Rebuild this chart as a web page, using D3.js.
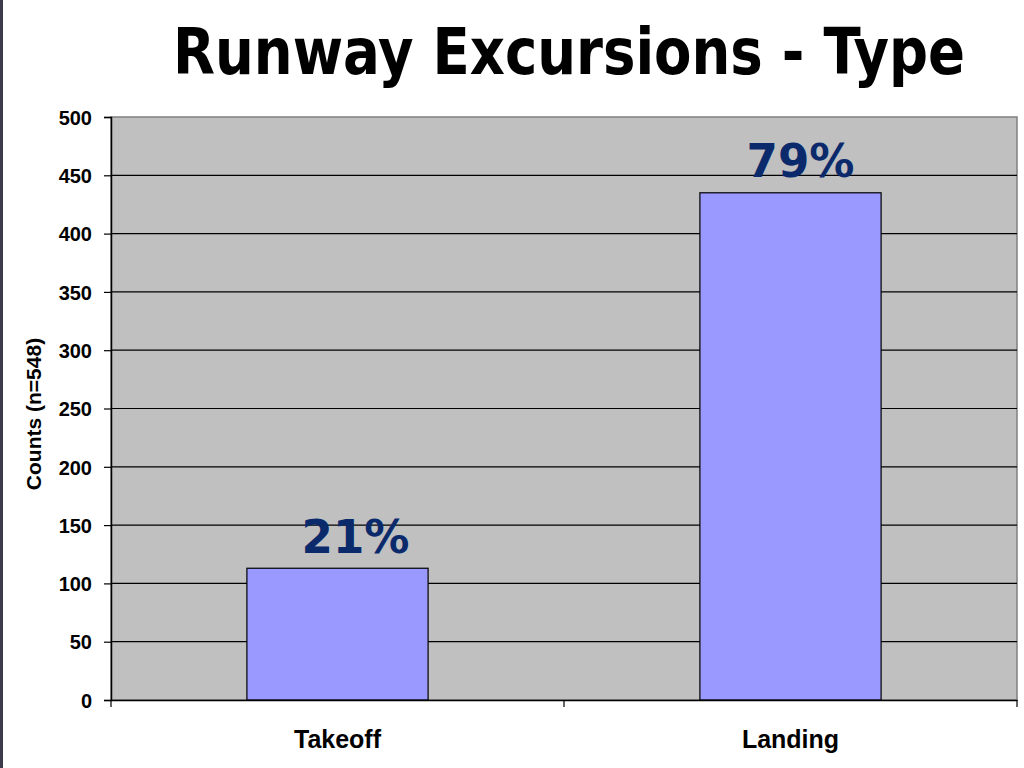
<!DOCTYPE html>
<html><head><meta charset="utf-8">
<script src="https://cdn.jsdelivr.net/npm/d3@7"></script>
<style>html,body{margin:0;padding:0;background:#fff;}svg{display:block;}</style>
</head><body>
<script>
const categories = ["Takeoff", "Landing"];
const counts = [113, 435];
const pctLabels = ["21%", "79%"];
const yTicks = [0, 50, 100, 150, 200, 250, 300, 350, 400, 450, 500];
const titleText = "Runway Excursions - Type";
const yAxisLabel = "Counts (n=548)";

const W = 1024, H = 768;
const m = {left: 111, right: 7, top: 117, bottom: 68};
const svg = d3.select("body").append("svg").attr("width", W).attr("height", H);

svg.append("rect").attr("x", 0).attr("y", 0).attr("width", 3).attr("height", H).attr("fill", "#3b3b4b");

const x = d3.scaleBand().domain(categories).range([m.left, W - m.right]).paddingInner(0.6).paddingOuter(0.3);
const xOuter = d3.scaleBand().domain(categories).range([m.left, W - m.right]);
const y = d3.scaleLinear().domain([0, 500]).range([H - m.bottom, m.top]);

svg.append("rect").attr("x", m.left).attr("y", m.top)
  .attr("width", W - m.right - m.left).attr("height", H - m.bottom - m.top)
  .attr("fill", "#c0c0c0").attr("stroke", "#808080").attr("stroke-width", 1.5);

svg.append("g").selectAll("line").data(yTicks.filter(d => d > 0 && d < 500)).join("line")
  .attr("x1", m.left).attr("x2", W - m.right)
  .attr("y1", d => y(d)).attr("y2", d => y(d))
  .attr("stroke", "#000").attr("stroke-width", 1.2);

svg.append("text").attr("x", 173).attr("y", 74)
  .attr("font-family", "DejaVu Sans Condensed, DejaVu Sans").attr("font-weight", "bold").attr("font-size", 64)
  .attr("textLength", 792).attr("lengthAdjust", "spacingAndGlyphs")
  .attr("fill", "#000").text(titleText);

svg.append("g").selectAll("rect").data(categories).join("rect")
  .attr("x", d => x(d)).attr("width", x.bandwidth())
  .attr("y", (d, i) => y(counts[i])).attr("height", (d, i) => y(0) - y(counts[i]))
  .attr("fill", "#9999ff").attr("stroke", "#000").attr("stroke-width", 1.2);

const labelOffsets = [18, 10];
svg.append("g").selectAll("text").data(categories).join("text")
  .attr("x", (d, i) => x(d) + x.bandwidth() / 2 + labelOffsets[i] - 54)
  .attr("y", (d, i) => y(counts[i]) - 15.5)
  .attr("font-family", "DejaVu Sans").attr("font-weight", "bold").attr("font-size", 46)
  .attr("textLength", 108).attr("lengthAdjust", "spacingAndGlyphs")
  .attr("fill", "#0b2a6c").text((d, i) => pctLabels[i]);

const yAxis = svg.append("g").attr("transform", `translate(${m.left},0)`)
  .call(d3.axisLeft(y).tickValues(yTicks).tickSize(7).tickPadding(12));
yAxis.select(".domain").attr("stroke", "#000").attr("stroke-width", 1.5);
yAxis.selectAll(".tick line").attr("stroke", "#000").attr("stroke-width", 1.2);
yAxis.selectAll("text").attr("font-family", "Liberation Sans").attr("font-weight", "bold")
  .attr("font-size", 20).attr("fill", "#000").attr("dy", "0.36em");

const xAxis = svg.append("g").attr("transform", `translate(0,${H - m.bottom})`)
  .call(d3.axisBottom(xOuter).tickSize(0).tickPadding(0));
xAxis.select(".domain").attr("stroke", "#000").attr("stroke-width", 1.5);
xAxis.selectAll("text").attr("font-family", "Liberation Sans").attr("font-weight", "bold")
  .attr("font-size", 25).attr("fill", "#000").attr("dy", null).attr("y", 48);
const sep = [xOuter.range()[0], xOuter(categories[1]), xOuter.range()[1]];
svg.append("g").selectAll("line").data(sep).join("line")
  .attr("x1", d => d).attr("x2", d => d)
  .attr("y1", H - m.bottom).attr("y2", H - m.bottom + 7)
  .attr("stroke", "#000").attr("stroke-width", 1.2);

svg.append("text").attr("transform", `translate(41,${414}) rotate(-90)`)
  .attr("text-anchor", "middle").attr("font-family", "Liberation Sans").attr("font-weight", "bold")
  .attr("font-size", 21).attr("fill", "#000").text(yAxisLabel);
</script>
</body></html>
